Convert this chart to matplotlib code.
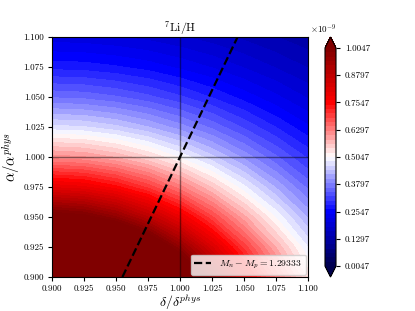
import numpy as np
import matplotlib
matplotlib.use("Agg")
import matplotlib.pyplot as plt

plt.rcParams.update({
    "font.family": "cmr10",
    "mathtext.fontset": "cm",
    "axes.formatter.use_mathtext": True,
    "axes.unicode_minus": False,
})

# grid of delta/delta_phys and alpha/alpha_phys
delta = [0.900, 0.925, 0.950, 0.975, 1.000, 1.025, 1.050, 1.075, 1.100]
alpha = [0.900, 0.925, 0.950, 0.975, 1.000, 1.025, 1.050, 1.075, 1.100]

# 7Li/H in units of 1e-9, rows = alpha, columns = delta
li7h_e9 = [
    [1.772, 1.712, 1.555, 1.356, 1.152, 0.964, 0.799, 0.658, 0.539],
    [1.360, 1.326, 1.235, 1.107, 0.966, 0.826, 0.697, 0.583, 0.484],
    [1.043, 1.023, 0.967, 0.885, 0.788, 0.688, 0.591, 0.502, 0.422],
    [0.800, 0.788, 0.752, 0.698, 0.632, 0.561, 0.490, 0.422, 0.359],
    [0.614, 0.606, 0.582, 0.546, 0.501, 0.451, 0.399, 0.348, 0.301],
    [0.471, 0.466, 0.450, 0.425, 0.394, 0.359, 0.321, 0.284, 0.248],
    [0.362, 0.358, 0.347, 0.330, 0.308, 0.283, 0.256, 0.229, 0.202],
    [0.277, 0.275, 0.267, 0.256, 0.240, 0.223, 0.203, 0.183, 0.163],
    [0.213, 0.211, 0.206, 0.198, 0.187, 0.174, 0.160, 0.145, 0.131],
]

vmin_e9 = 0.0047
vmax_e9 = 1.0047
n_levels = 51
n_ticks = 9

# line of constant M_n - M_p
line_delta = [0.955, 1.045]
line_alpha = [0.900, 1.100]
line_label = r"$M_n - M_p = 1.29333$"

Z = np.array(li7h_e9) * 1e-9
levels = np.linspace(vmin_e9, vmax_e9, n_levels) * 1e-9
ticks = np.linspace(vmin_e9, vmax_e9, n_ticks) * 1e-9

fig = plt.figure(figsize=(4.15, 3.11), dpi=100)
ax = fig.add_axes([52 / 415, 34 / 311, 256 / 415, 240 / 311])
cax = fig.add_axes([325 / 415, 34 / 311, 11 / 415, 240 / 311])

cs = ax.contourf(delta, alpha, Z, levels=levels, cmap="seismic", extend="both")
ax.axvline(1.0, color="k", lw=1, alpha=0.45)
ax.axhline(1.0, color="k", lw=1, alpha=0.45)
ax.plot(line_delta, line_alpha, "k--", lw=1.6, label=line_label)

ax.set_xlim(0.9, 1.1)
ax.set_ylim(0.9, 1.1)
ax.set_xticks(np.arange(0.9, 1.1001, 0.025))
ax.set_yticks(np.arange(0.9, 1.1001, 0.025))
ax.xaxis.set_major_formatter(matplotlib.ticker.FormatStrFormatter("%.3f"))
ax.yaxis.set_major_formatter(matplotlib.ticker.FormatStrFormatter("%.3f"))
ax.tick_params(labelsize=6.5, length=3, pad=2.5)
ax.set_xlabel(r"$\delta/\delta^{phys}$", fontsize=10, labelpad=0)
ax.set_ylabel(r"$\alpha/\alpha^{phys}$", fontsize=10.5, labelpad=1)
ax.set_title(r"$^{7}\mathrm{Li/H}$", fontsize=8.5, pad=3)
ax.legend(loc="lower right", fontsize=7, handlelength=1.7, borderpad=0.4,
          borderaxespad=0.25)

cb = fig.colorbar(cs, cax=cax, ticks=ticks, format=matplotlib.ticker.FuncFormatter(
    lambda v, p: "%.4f" % (v * 1e9)))
cb.ax.tick_params(labelsize=6.5, length=3)
fig.text(336 / 415, (311 - 36) / 311, r"$\times10^{-9}$",
         ha="right", va="bottom", fontsize=6.5)

fig.savefig("out.png", dpi=100)
